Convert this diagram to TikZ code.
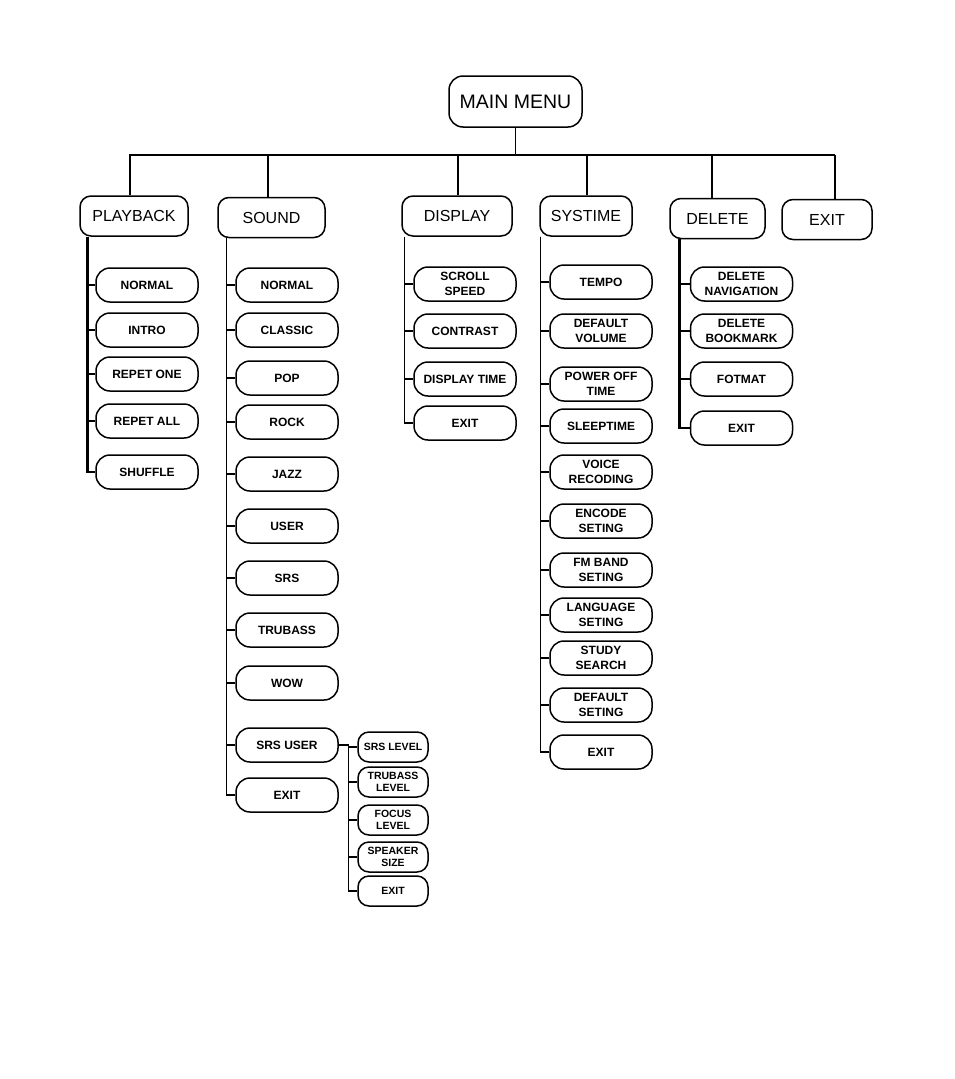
\documentclass[tikz,border=0pt]{standalone}
\usepackage{fontspec}
\setmainfont{Liberation Sans}
\begin{document}
\begin{tikzpicture}[x=1pt,y=-1pt,
  box/.style={draw,line width=1.5pt,rounded corners=11pt,align=center,inner sep=0pt,font=\fontsize{12}{15.5}\selectfont\bfseries},
  head/.style={box,font=\fontsize{16}{18}\selectfont,minimum height=40pt},
  item/.style={box,minimum width=102pt,minimum height=34pt,rounded corners=14pt},
  subitem/.style={box,minimum width=70pt,minimum height=30pt,rounded corners=11pt,font=\fontsize{10.5}{12.5}\selectfont\bfseries},
  ln/.style={line width=1.2pt},
  thk/.style={line width=2.6pt}]
\useasboundingbox (0,0) rectangle (954,1079);
\node[box,minimum width=133pt,minimum height=51pt,rounded corners=14pt,font=\fontsize{19.5}{22}\selectfont] (main) at (515.5,101.5) {MAIN MENU};
\node[head,minimum width=108pt] (pb) at (134,216) {PLAYBACK};
\node[head,minimum width=107pt] (snd) at (271.5,217.5) {SOUND};
\node[head,minimum width=110pt] (dsp) at (457,216) {DISPLAY};
\node[head,minimum width=92pt] (sys) at (586,216) {SYSTIME};
\node[head,minimum width=95pt] (del) at (717.5,218.5) {DELETE};
\node[head,minimum width=90pt] (ext) at (827,219.5) {EXIT};
\coordinate (bus) at (0,155);
\draw[ln] (main.south) -- (main.south |- bus);
\draw[thk] ([xshift=-4pt]pb.north) -- ([xshift=-4pt]pb.north |- bus) -- ([xshift=8pt]ext.north |- bus);
\draw[ln] ([xshift=8pt]ext.north) -- ([xshift=8pt]ext.north |- bus);
\draw[ln] ([xshift=-3.5pt]snd.north) -- ([xshift=-3.5pt]snd.north |- bus);
\draw[ln] ([xshift=1pt]dsp.north) -- ([xshift=1pt]dsp.north |- bus);
\draw[ln] ([xshift=1pt]sys.north) -- ([xshift=1pt]sys.north |- bus);
\draw[ln] ([xshift=-5.5pt]del.north) -- ([xshift=-5.5pt]del.north |- bus);
% PLAYBACK
\foreach \t/\y [count=\i] in {{NORMAL}/285,{INTRO}/330,{REPET ONE}/374,{REPET ALL}/421,{SHUFFLE}/472}{
  \node[item] (p\i) at (147,\y) {\t};
  \draw[thk] ([xshift=8pt]pb.south west) |- (p\i.west);
}
% SOUND
\foreach \t/\y [count=\i] in {{NORMAL}/285,{CLASSIC}/330,{POP}/378,{ROCK}/422,{JAZZ}/474,{USER}/526,{SRS}/578,{TRUBASS}/630,{WOW}/683,{SRS USER}/745,{EXIT}/795}{
  \node[item] (s\i) at (287,\y) {\t};
  \draw[ln] ([xshift=9pt]snd.south west) |- (s\i.west);
}
% SRS USER submenu
\foreach \t/\y [count=\i] in {{SRS LEVEL}/747,{TRUBASS\\LEVEL}/782,{FOCUS\\LEVEL}/820,{SPEAKER\\SIZE}/857,{EXIT}/891}{
  \node[subitem] (u\i) at (393,\y) {\t};
  \draw[ln] (s10.east) -- ++(10,0) |- (u\i.west);
}
% DISPLAY
\foreach \t/\y [count=\i] in {{SCROLL\\SPEED}/284,{CONTRAST}/331,{DISPLAY TIME}/379,{EXIT}/423}{
  \node[item] (d\i) at (465,\y) {\t};
  \draw[ln] ([xshift=3pt]dsp.south west) |- (d\i.west);
}
% SYSTIME
\foreach \t/\y [count=\i] in {{TEMPO}/282,{DEFAULT\\VOLUME}/331,{POWER OFF\\TIME}/384,{SLEEPTIME}/426,{VOICE\\RECODING}/472,{ENCODE\\SETING}/521,{FM BAND\\SETING}/570,{LANGUAGE\\SETING}/615,{STUDY\\SEARCH}/658,{DEFAULT\\SETING}/705,{EXIT}/752}{
  \node[item] (y\i) at (601,\y) {\t};
  \draw[ln] ([xshift=1pt]sys.south west) |- (y\i.west);
}
% DELETE
\foreach \t/\y [count=\i] in {{DELETE\\NAVIGATION}/284,{DELETE\\BOOKMARK}/331,{FOTMAT}/379,{EXIT}/428}{
  \node[item] (e\i) at (741.5,\y) {\t};
  \draw[thk] ([xshift=10pt]del.south west) |- (e\i.west);
}
\end{tikzpicture}
\end{document}
